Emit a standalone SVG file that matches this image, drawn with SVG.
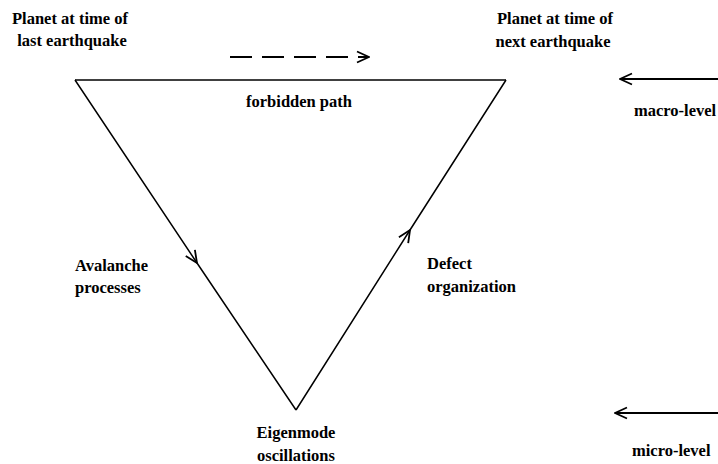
<svg xmlns="http://www.w3.org/2000/svg" width="718" height="464" viewBox="0 0 718 464">
<style>
text{font-family:"Liberation Serif","DejaVu Serif",serif;font-weight:bold;font-size:16.5px;fill:#000}
.edge{fill:none;stroke:#000;stroke-width:1.5}
.arr{fill:none;stroke:#000;stroke-width:2}
.dash{stroke-dasharray:22 10}
</style>
<defs>
<marker id="v" viewBox="0 0 14 14" refX="13" refY="7" markerWidth="14" markerHeight="14" markerUnits="userSpaceOnUse" orient="auto">
<path d="M1,1.5 L13,7 L1,12.5" fill="none" stroke="#000" stroke-width="1.8"/>
</marker>
</defs>
<rect width="718" height="464" fill="#fff"/>
<g id="connectors">
<path class="edge" d="M75,80 L506,80"/>
<path class="edge" d="M75,80 L197,263 L296,410" marker-mid="url(#v)"/>
<path class="edge" d="M296,410 L410,230 L506,80" marker-mid="url(#v)"/>
<path class="arr dash" d="M230,57 L369,57" marker-end="url(#v)"/>
<path class="arr" d="M718,79 L620,79" marker-end="url(#v)"/>
<path class="arr" d="M718,413 L615,413" marker-end="url(#v)"/>
</g>
<g id="last">
<text x="70" y="24" text-anchor="middle">Planet at time of</text>
<text x="72" y="46" text-anchor="middle">last earthquake</text>
</g>
<g id="next">
<text x="555" y="24" text-anchor="middle">Planet at time of</text>
<text x="553" y="47" text-anchor="middle">next earthquake</text>
</g>
<g id="forbidden"><text x="299" y="107" text-anchor="middle">forbidden path</text></g>
<g id="macro"><text x="634" y="116">macro-level</text></g>
<g id="avalanche">
<text x="75" y="271">Avalanche</text>
<text x="75" y="293">processes</text>
</g>
<g id="defect">
<text x="427" y="269">Defect</text>
<text x="427" y="292">organization</text>
</g>
<g id="eigen">
<text x="296" y="438" text-anchor="middle">Eigenmode</text>
<text x="296" y="461" text-anchor="middle">oscillations</text>
</g>
<g id="micro"><text x="632" y="456">micro-level</text></g>
</svg>
